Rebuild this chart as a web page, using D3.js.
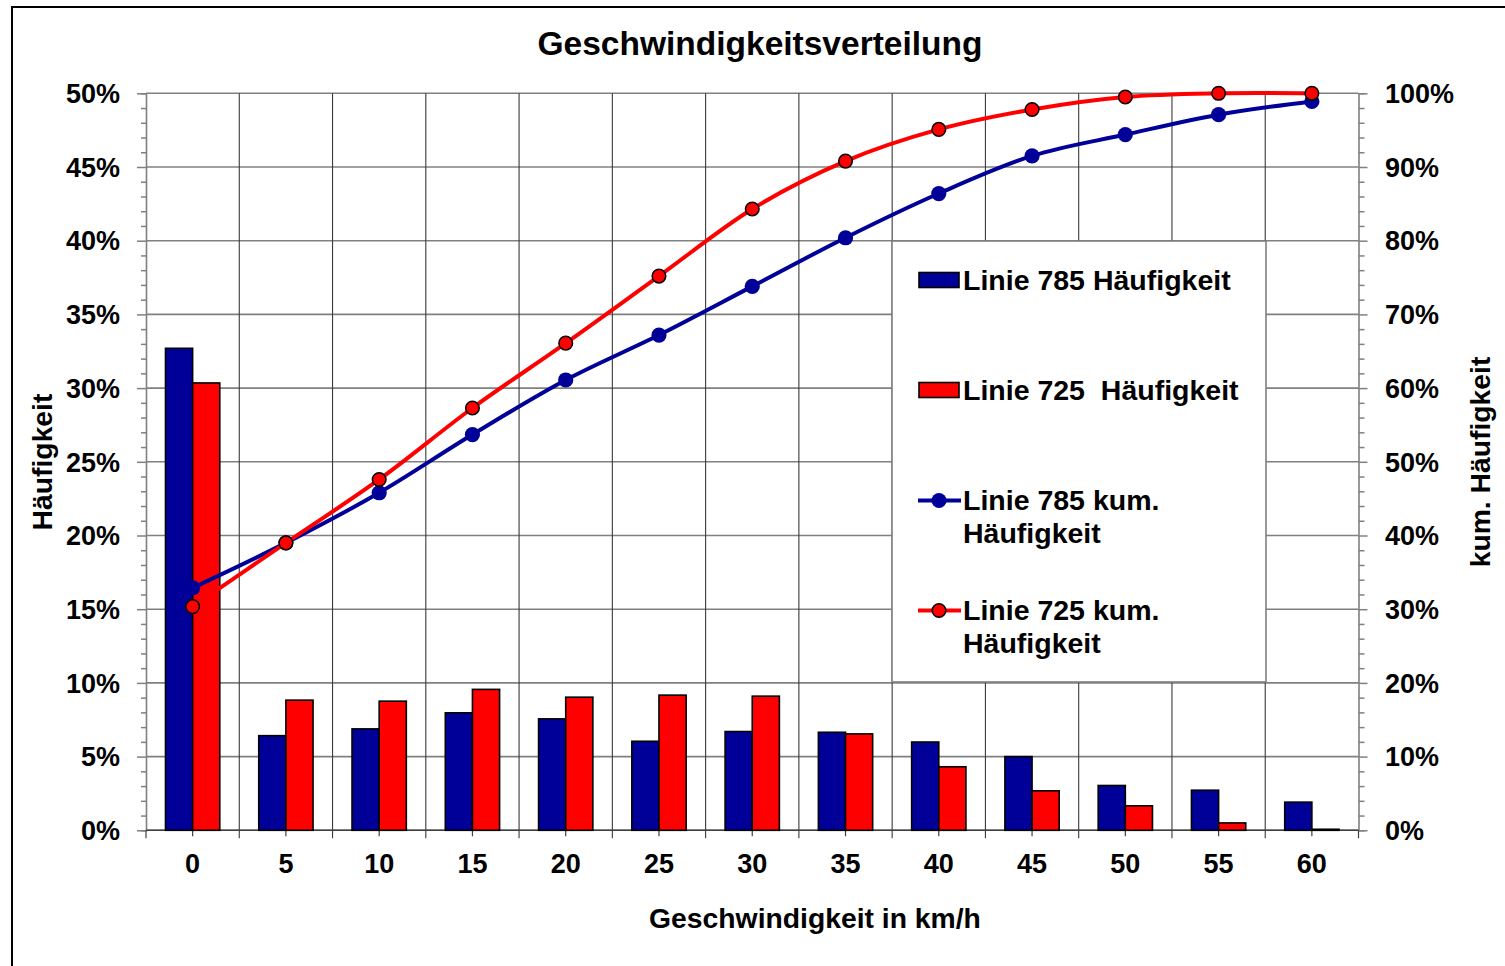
<!DOCTYPE html>
<html>
<head>
<meta charset="utf-8">
<script src="https://cdn.jsdelivr.net/npm/d3@7"></script>
<style>
  html, body { margin: 0; padding: 0; background: #fff; }
  svg { display: block; font-family: "Liberation Sans", Arial, sans-serif; font-weight: bold; }
</style>
</head>
<body>
<svg id="chart" width="1505" height="966"></svg>
<script>
// ---- data ----
const categories = ["0", "5", "10", "15", "20", "25", "30", "35", "40", "45", "50", "55", "60"];
const freq785 = [32.7, 6.42, 6.88, 7.97, 7.56, 6.04, 6.70, 6.65, 5.99, 5.00, 3.04, 2.72, 1.91];
const freq725 = [30.35, 8.83, 8.76, 9.56, 9.03, 9.17, 9.10, 6.54, 4.31, 2.68, 1.66, 0.50, 0.07];
const cum785 = [32.9, 39.0, 45.8, 53.7, 61.1, 67.2, 73.8, 80.4, 86.4, 91.5, 94.4, 97.1, 98.9];
const cum725 = [30.35, 39.0, 47.6, 57.3, 66.1, 75.2, 84.3, 90.8, 95.1, 97.8, 99.5, 100, 100];
const leftTicks = [0, 5, 10, 15, 20, 25, 30, 35, 40, 45, 50];
const rightTicks = [0, 10, 20, 30, 40, 50, 60, 70, 80, 90, 100];
const seriesNames = ["Linie 785 Häufigkeit", "Linie 725  Häufigkeit", "Linie 785 kum.|Häufigkeit", "Linie 725 kum.|Häufigkeit"];
const title = "Geschwindigkeitsverteilung";
const xTitle = "Geschwindigkeit in km/h";
const yTitle = "Häufigkeit";
const y2Title = "kum. Häufigkeit";

const BLUE = "#000099", RED = "#ff0000";

const svg = d3.select("#chart");
const L = 146, R = 1358.5, T = 93.3, B = 830.3;

// outer frame
svg.append("rect").attr("x", 12).attr("y", 7).attr("width", 1520).attr("height", 990)
  .attr("fill", "#fff").attr("stroke", "#000").attr("stroke-width", 2);

const x = d3.scaleBand().domain(categories).range([L, R]).padding(0);
const y = d3.scaleLinear().domain([0, 50]).range([B, T]);
const y2 = d3.scaleLinear().domain([0, 100]).range([B, T]);
const bw = x.bandwidth();
const barW = bw * 0.291;

// horizontal gridlines
svg.append("g").selectAll("line").data(leftTicks).join("line")
  .attr("x1", L).attr("x2", R).attr("y1", d => y(d)).attr("y2", d => y(d))
  .attr("stroke", "#808080").attr("stroke-width", 1.6);

// vertical gridlines at band boundaries
const bounds = categories.slice(1).map(c => x(c));
svg.append("g").selectAll("line").data(bounds).join("line")
  .attr("x1", d => d).attr("x2", d => d).attr("y1", T).attr("y2", B + 8)
  .attr("stroke", "#3a3a3a").attr("stroke-width", 1.1);

// left axis
const gL = svg.append("g").attr("transform", `translate(${L},0)`)
  .call(d3.axisLeft(y).tickValues(d3.range(0, 51, 1)).tickSize(5).tickFormat(""));
gL.selectAll("line").attr("stroke", "#808080").attr("stroke-width", 1.5);
gL.selectAll(".tick").filter(d => d % 5 === 0).select("line").attr("x2", -9);
gL.select(".domain").attr("stroke", "#808080").attr("stroke-width", 1.6);
svg.append("g").selectAll("text").data(leftTicks).join("text")
  .attr("x", 120).attr("y", d => y(d)).attr("dy", "0.36em")
  .attr("text-anchor", "end").attr("font-size", 27).text(d => d + "%");

// right axis
const gR = svg.append("g").attr("transform", `translate(${R},0)`)
  .call(d3.axisRight(y2).tickValues(d3.range(0, 101, 2)).tickSize(6).tickFormat(""));
gR.selectAll("line").attr("stroke", "#808080").attr("stroke-width", 1.5);
gR.selectAll(".tick").filter(d => d % 10 === 0).select("line").attr("x2", 9);
gR.select(".domain").attr("stroke", "#808080").attr("stroke-width", 1.6);
svg.append("g").selectAll("text").data(rightTicks).join("text")
  .attr("x", 1385).attr("y", d => y2(d)).attr("dy", "0.36em")
  .attr("text-anchor", "start").attr("font-size", 27).text(d => d + "%");

// bottom axis
svg.append("line").attr("x1", L).attr("x2", R).attr("y1", B).attr("y2", B)
  .attr("stroke", "#404040").attr("stroke-width", 1.6);
svg.append("g").selectAll("line").data(categories).join("line")
  .attr("x1", d => x(d) + bw / 2).attr("x2", d => x(d) + bw / 2)
  .attr("y1", B).attr("y2", B + 6).attr("stroke", "#404040").attr("stroke-width", 1.2);
svg.append("g").selectAll("line").data([L, R]).join("line")
  .attr("x1", d => d).attr("x2", d => d).attr("y1", B).attr("y2", B + 8)
  .attr("stroke", "#404040").attr("stroke-width", 1.2);
svg.append("g").selectAll("text").data(categories).join("text")
  .attr("x", d => x(d) + bw / 2).attr("y", 873)
  .attr("text-anchor", "middle").attr("font-size", 27).text(d => d);

// bars
svg.append("g").selectAll("rect").data(freq785).join("rect")
  .attr("x", (d, i) => x(categories[i]) + bw / 2 - barW).attr("width", barW)
  .attr("y", d => y(d)).attr("height", d => B - y(d))
  .attr("fill", BLUE).attr("stroke", "#000").attr("stroke-width", 1.6);
svg.append("g").selectAll("rect").data(freq725).join("rect")
  .attr("x", (d, i) => x(categories[i]) + bw / 2).attr("width", barW)
  .attr("y", d => y(d)).attr("height", d => B - y(d))
  .attr("fill", RED).attr("stroke", "#000").attr("stroke-width", 1.6);

// cumulative lines
const line = d3.line()
  .x((d, i) => x(categories[i]) + bw / 2)
  .y(d => y2(d))
  .curve(d3.curveCatmullRom.alpha(0));
svg.append("path").datum(cum785).attr("d", line)
  .attr("fill", "none").attr("stroke", BLUE).attr("stroke-width", 4);
svg.append("g").selectAll("circle").data(cum785).join("circle")
  .attr("cx", (d, i) => x(categories[i]) + bw / 2).attr("cy", d => y2(d))
  .attr("r", 7.6).attr("fill", BLUE);
svg.append("path").datum(cum725).attr("d", line)
  .attr("fill", "none").attr("stroke", RED).attr("stroke-width", 4);
svg.append("g").selectAll("circle").data(cum725).join("circle")
  .attr("cx", (d, i) => x(categories[i]) + bw / 2).attr("cy", d => y2(d))
  .attr("r", 6.8).attr("fill", RED).attr("stroke", "#000").attr("stroke-width", 1.5);

// legend
const lg = svg.append("g");
lg.append("rect").attr("x", 892).attr("y", 241).attr("width", 374).attr("height", 441)
  .attr("fill", "#fff").attr("stroke", "#808080").attr("stroke-width", 1.6);
const items = [
  { type: "bar", color: BLUE, y: 280 },
  { type: "bar", color: RED, y: 390 },
  { type: "line", color: BLUE, y: 500.5 },
  { type: "line", color: RED, y: 610.5 }
];
items.forEach((it, i) => {
  if (it.type === "bar") {
    lg.append("rect").attr("x", 919).attr("y", it.y - 7.5).attr("width", 40).attr("height", 15)
      .attr("fill", it.color).attr("stroke", "#000").attr("stroke-width", 1.6);
  } else {
    lg.append("line").attr("x1", 918).attr("x2", 961).attr("y1", it.y).attr("y2", it.y)
      .attr("stroke", it.color).attr("stroke-width", 4);
    lg.append("circle").attr("cx", 939).attr("cy", it.y).attr("r", i === 2 ? 7.6 : 6.8)
      .attr("fill", it.color).attr("stroke", i === 3 ? "#000" : "none").attr("stroke-width", 1.5);
  }
  const parts = seriesNames[i].split("|");
  const t = lg.append("text").attr("x", 963).attr("y", it.y + 9.5).attr("font-size", 28.5)
    .attr("xml:space", "preserve").style("white-space", "pre");
  parts.forEach((p, j) => {
    t.append("tspan").attr("x", 963).attr("dy", j === 0 ? 0 : 33).text(p);
  });
});

// titles
svg.append("text").attr("x", 760).attr("y", 55).attr("text-anchor", "middle")
  .attr("font-size", 33.5).text(title);
svg.append("text").attr("x", 815).attr("y", 928).attr("text-anchor", "middle")
  .attr("font-size", 28.3).text(xTitle);
svg.append("text").attr("transform", "translate(52,462) rotate(-90)")
  .attr("text-anchor", "middle").attr("font-size", 28.3).text(yTitle);
svg.append("text").attr("transform", "translate(1490,462) rotate(-90)")
  .attr("text-anchor", "middle").attr("font-size", 28.3).text(y2Title);
</script>
</body>
</html>
